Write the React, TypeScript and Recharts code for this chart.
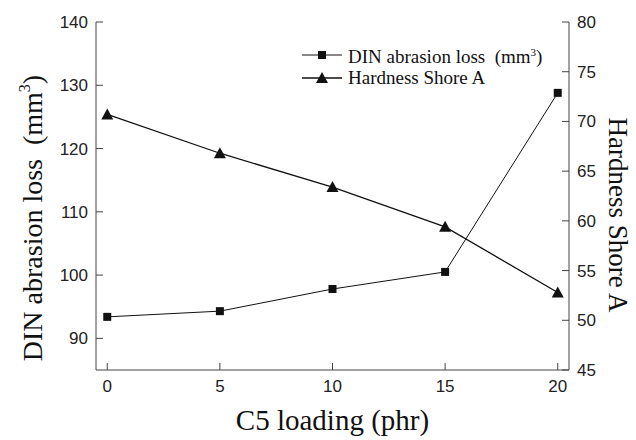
import React from 'react';
import { LineChart, Line, XAxis, YAxis } from 'recharts';

const loading = [0, 5, 10, 15, 20];
const abrasion = [93.4, 94.3, 97.8, 100.5, 128.8];
const hardness = [70.7, 66.8, 63.4, 59.4, 52.8];
const xTicks = [0, 5, 10, 15, 20];
const leftTicks = [90, 100, 110, 120, 130, 140];
const rightTicks = [45, 50, 55, 60, 65, 70, 75, 80];

const data = loading.map((x, i) => ({ x, abrasion: abrasion[i], hardness: hardness[i] }));

const serif = '"Liberation Serif", "Times New Roman", serif';
const sans = '"Liberation Sans", Arial, sans-serif';
const axisColor = '#444';
const TICK_LEN = 7;
const MARGIN = 8;

// square marker for abrasion loss
const SquareDot = (props: any) => {
    const { cx, cy } = props;
    if (cx == null || cy == null) return null;
    return <rect x={cx - 4} y={cy - 4} width={8} height={8} fill="#111" />;
};

// triangle marker for hardness
const TriangleDot = (props: any) => {
    const { cx, cy } = props;
    if (cx == null || cy == null) return null;
    return <path d={`M${cx},${cy - 6} L${cx + 6},${cy + 5} L${cx - 6},${cy + 5} Z`} fill="#111" />;
};

// ticks point inward, so draw the tick line together with the label
const BottomTick = (props: any) => {
    const { x, y, payload } = props;
    const axisY = y - MARGIN;
    return (
        <g>
            <line x1={x} x2={x} y1={axisY} y2={axisY - TICK_LEN} stroke={axisColor} />
            <text x={x} y={axisY + 22} textAnchor="middle" fontFamily={sans} fontSize={17} fill="#222">{payload.value}</text>
        </g>
    );
};

const LeftTick = (props: any) => {
    const { x, y, payload } = props;
    const axisX = x + MARGIN;
    return (
        <g>
            <line x1={axisX} x2={axisX + TICK_LEN} y1={y} y2={y} stroke={axisColor} />
            <text x={x} y={y + 6} textAnchor="end" fontFamily={sans} fontSize={17} fill="#222">{payload.value}</text>
        </g>
    );
};

const RightTick = (props: any) => {
    const { x, y, payload } = props;
    const axisX = x - MARGIN;
    return (
        <g>
            <line x1={axisX} x2={axisX - TICK_LEN} y1={y} y2={y} stroke={axisColor} />
            <text x={x} y={y + 6} textAnchor="start" fontFamily={sans} fontSize={17} fill="#222">{payload.value}</text>
        </g>
    );
};

// legend drawn as an overlay so it doesn't eat into the plot area
const ChartLegend = () => (
    <div style={{ position: 'absolute', left: 300, top: 42, fontFamily: serif, fontSize: 19, color: '#111', lineHeight: '21px' }}>
        <div style={{ display: 'flex', alignItems: 'center' }}>
            <svg width={44} height={14}>
                <line x1={2} y1={7} x2={42} y2={7} stroke="#111" strokeWidth={1} />
                <rect x={18} y={3} width={8} height={8} fill="#111" />
            </svg>
            <span style={{ marginLeft: 4 }}>
                DIN abrasion loss&nbsp; (mm<sup style={{ fontSize: 11 }}>3</sup>)
            </span>
        </div>
        <div style={{ display: 'flex', alignItems: 'center' }}>
            <svg width={44} height={14}>
                <line x1={2} y1={7} x2={42} y2={7} stroke="#111" strokeWidth={1.5} />
                <path d="M22,1 L28,12 L16,12 Z" fill="#111" />
            </svg>
            <span style={{ marginLeft: 4 }}>Hardness Shore A</span>
        </div>
    </div>
);

const LeftTitle = () => (
    <text x={0} y={0} transform="translate(42, 218) rotate(-90)" textAnchor="middle"
        fontFamily={serif} fontSize={28} fill="#111">
        DIN abrasion loss&nbsp; (mm<tspan fontSize={16} dy={-12}>3</tspan><tspan dy={12}>)</tspan>
    </text>
);

const RightTitle = () => (
    <text x={0} y={0} transform="translate(609, 215) rotate(90)" textAnchor="middle"
        fontFamily={serif} fontSize={27} fill="#111">
        Hardness Shore A
    </text>
);

const BottomTitle = (props: any) => {
    const { viewBox } = props;
    const cx = viewBox.x + viewBox.width / 2;
    return (
        <text x={cx} y={430} textAnchor="middle" fontFamily={serif} fontSize={29} fill="#111">
            C5 loading (phr)
        </text>
    );
};

export default function App() {
    return (
        <div style={{ position: 'absolute', left: 0, top: 0, width: 636, height: 440, background: '#fff' }}>
            <LineChart width={636} height={440} data={data} margin={{ top: 22, right: 0, left: 0, bottom: 0 }}>
                <XAxis dataKey="x" type="number" domain={[-0.5, 20.5]} ticks={xTicks} height={70}
                    stroke={axisColor} tick={<BottomTick />} tickLine={false} tickSize={0} tickMargin={MARGIN}
                    label={<BottomTitle />} />
                <XAxis xAxisId="top" orientation="top" dataKey="x" type="number" domain={[-0.5, 20.5]}
                    height={0} tick={false} tickLine={false} stroke={axisColor} />
                <YAxis yAxisId="left" domain={[85, 140]} ticks={leftTicks} width={96}
                    stroke={axisColor} tick={<LeftTick />} tickLine={false} tickSize={0} tickMargin={MARGIN}
                    label={<LeftTitle />} />
                <YAxis yAxisId="right" orientation="right" domain={[45, 80]} ticks={rightTicks} width={67}
                    stroke={axisColor} tick={<RightTick />} tickLine={false} tickSize={0} tickMargin={MARGIN}
                    label={<RightTitle />} />
                <Line yAxisId="left" type="linear" dataKey="abrasion" stroke="#111" strokeWidth={1}
                    dot={<SquareDot />} activeDot={false} isAnimationActive={false} />
                <Line yAxisId="right" type="linear" dataKey="hardness" stroke="#111" strokeWidth={1.3}
                    dot={<TriangleDot />} activeDot={false} isAnimationActive={false} />
            </LineChart>
            <ChartLegend />
        </div>
    );
}
